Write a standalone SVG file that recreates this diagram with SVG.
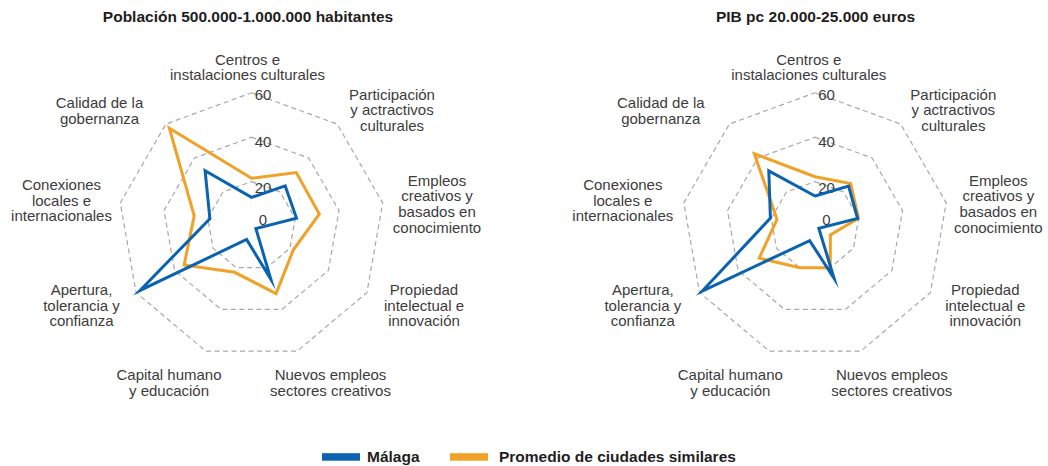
<svg xmlns="http://www.w3.org/2000/svg" xmlns:xlink="http://www.w3.org/1999/xlink" width="1048" height="466" viewBox="0 0 1048 466">
<style>
  .title { font-family: "Liberation Sans", Arial, sans-serif; font-weight: bold; font-size: 15.5px; fill: #1e1e1e; text-anchor: middle; }
  .lbl { font-family: "Liberation Sans", Arial, sans-serif; font-size: 15px; fill: #3c3c3c; text-anchor: middle; }
  .tick { font-family: "Liberation Sans", Arial, sans-serif; font-size: 15px; fill: #3c3c3c; text-anchor: middle; }
  .ring { fill: none; stroke: #a8a8a8; stroke-width: 1.2; stroke-dasharray: 5 3.5; }
  .blue { fill: none; stroke: #0a63b0; stroke-width: 3; stroke-linejoin: miter; stroke-miterlimit: 10; }
  .orange { fill: none; stroke: #f0a127; stroke-width: 3; stroke-linejoin: miter; stroke-miterlimit: 10; }
  .leg { font-family: "Liberation Sans", Arial, sans-serif; font-weight: bold; font-size: 15.5px; fill: #1e1e1e; }
</style>
<defs>
  <g id="grid">
    <polygon class="ring" points="0,-133.2 85.6,-102 131.2,-23.1 115.4,66.6 45.6,125.2 -45.6,125.2 -115.4,66.6 -131.2,-23.1 -85.6,-102"/>
    <polygon class="ring" points="0,-88.8 57.1,-68 87.5,-15.4 76.9,44.4 30.4,83.4 -30.4,83.4 -76.9,44.4 -87.5,-15.4 -57.1,-68"/>
    <polygon class="ring" points="0,-44.4 28.5,-34 43.7,-7.7 38.5,22.2 15.2,41.7 -15.2,41.7 -38.5,22.2 -43.7,-7.7 -28.5,-34"/>
    <text class="tick" x="11.5" y="-126">60</text>
    <text class="tick" x="11.5" y="-79.5">40</text>
    <text class="tick" x="11.5" y="-33">20</text>
    <text class="tick" x="11.5" y="-1">0</text>
  </g>
</defs>

<g id="chart-left">
  <text class="title" x="248" y="21.5">Población 500.000-1.000.000 habitantes</text>
  <g transform="translate(251.5,226)">
    <use xlink:href="#grid" href="#grid"/>
    <polygon class="orange" points="0,-47.7 44.8,-53.4 67.8,-11.9 41.7,24.1 24.6,67.6 -16.9,46.3 -67.3,38.9 -57.3,-10.1 -82.1,-97.8"/>
    <polygon class="blue" points="0,-28.6 33.7,-40.1 45,-7.9 4.4,2.6 19.4,53.4 -4.9,13.5 -111.5,64.4 -41.6,-7.3 -46.4,-55.3"/>
  </g>
  <g id="labels-left">
    <text class="lbl" x="247.5" y="64.5">Centros e<tspan x="247.5" dy="15.6">instalaciones culturales</tspan></text>
    <text class="lbl" x="392" y="99.5">Participación<tspan x="392" dy="15.6">y actractivos</tspan><tspan x="392" dy="15.6">culturales</tspan></text>
    <text class="lbl" x="437" y="185.5">Empleos<tspan x="437" dy="15.7">creativos y</tspan><tspan x="437" dy="15.7">basados en</tspan><tspan x="437" dy="15.7">conocimiento</tspan></text>
    <text class="lbl" x="424" y="295">Propiedad<tspan x="424" dy="15.6">intelectual e</tspan><tspan x="424" dy="15.6">innovación</tspan></text>
    <text class="lbl" x="330.5" y="380">Nuevos empleos<tspan x="330.5" dy="15.6">sectores creativos</tspan></text>
    <text class="lbl" x="169" y="380">Capital humano<tspan x="169" dy="15.6">y educación</tspan></text>
    <text class="lbl" x="81.5" y="295">Apertura,<tspan x="81.5" dy="15.6">tolerancia y</tspan><tspan x="81.5" dy="15.6">confianza</tspan></text>
    <text class="lbl" x="61.5" y="190">Conexiones<tspan x="61.5" dy="15.6">locales e</tspan><tspan x="61.5" dy="15.6">internacionales</tspan></text>
    <text class="lbl" x="99.5" y="108">Calidad de la<tspan x="99.5" dy="15.6">gobernanza</tspan></text>
  </g>
</g>

<g id="chart-right">
  <text class="title" x="815.5" y="21.5">PIB pc 20.000-25.000 euros</text>
  <g transform="translate(815,226)">
    <use xlink:href="#grid" href="#grid"/>
    <polygon class="orange" points="0,-49.3 35.7,-42.5 43.5,-7.7 15.4,8.9 15.2,41.7 -15.2,41.7 -55.8,32.2 -38,-6.7 -60.7,-72.3"/>
    <polygon class="blue" points="0,-30 33.6,-40 42.6,-7.5 3.8,2.2 19.1,52.5 -5.3,14.6 -112.7,65.1 -44.6,-7.9 -46.2,-55.1"/>
  </g>
  <g id="labels-right" transform="translate(561.3,0)">
    <text class="lbl" x="247.5" y="64.5">Centros e<tspan x="247.5" dy="15.6">instalaciones culturales</tspan></text>
    <text class="lbl" x="392" y="99.5">Participación<tspan x="392" dy="15.6">y actractivos</tspan><tspan x="392" dy="15.6">culturales</tspan></text>
    <text class="lbl" x="437" y="185.5">Empleos<tspan x="437" dy="15.7">creativos y</tspan><tspan x="437" dy="15.7">basados en</tspan><tspan x="437" dy="15.7">conocimiento</tspan></text>
    <text class="lbl" x="424" y="295">Propiedad<tspan x="424" dy="15.6">intelectual e</tspan><tspan x="424" dy="15.6">innovación</tspan></text>
    <text class="lbl" x="330.5" y="380">Nuevos empleos<tspan x="330.5" dy="15.6">sectores creativos</tspan></text>
    <text class="lbl" x="169" y="380">Capital humano<tspan x="169" dy="15.6">y educación</tspan></text>
    <text class="lbl" x="81.5" y="295">Apertura,<tspan x="81.5" dy="15.6">tolerancia y</tspan><tspan x="81.5" dy="15.6">confianza</tspan></text>
    <text class="lbl" x="61.5" y="190">Conexiones<tspan x="61.5" dy="15.6">locales e</tspan><tspan x="61.5" dy="15.6">internacionales</tspan></text>
    <text class="lbl" x="99.5" y="108">Calidad de la<tspan x="99.5" dy="15.6">gobernanza</tspan></text>
  </g>
</g>

<g id="legend">
  <rect x="322" y="453.2" width="38" height="7.5" fill="#0a63b0"/>
  <text class="leg" x="367" y="461.5">Málaga</text>
  <rect x="450" y="453.2" width="38" height="7.5" fill="#f0a127"/>
  <text class="leg" x="499" y="461.5">Promedio de ciudades similares</text>
</g>

<g id="connectors"></g>
</svg>
